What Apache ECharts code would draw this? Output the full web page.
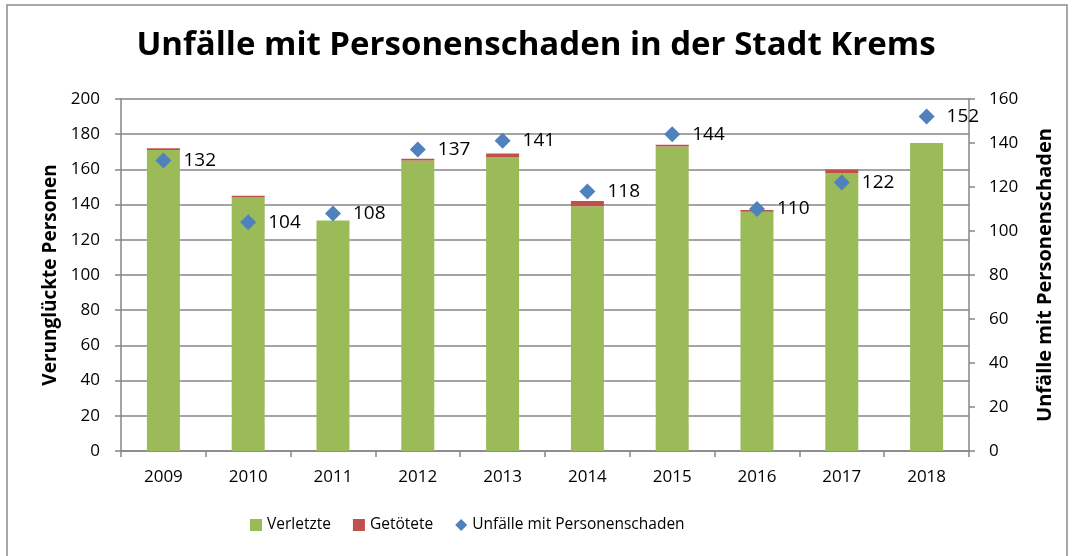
<!DOCTYPE html>
<html>
<head>
<meta charset="utf-8">
<script src="https://cdn.jsdelivr.net/npm/echarts@6/dist/echarts.min.js"></script>
<style>
  html, body { margin: 0; padding: 0; background: #fff; }
  #chart { width: 1072px; height: 556px; }
</style>
</head>
<body>
<div id="chart"></div>
<script>
const years = ['2009', '2010', '2011', '2012', '2013', '2014', '2015', '2016', '2017', '2018']
const verletzte = [171, 144, 131, 165, 167, 139, 173, 136, 158, 175]
const getoetete = [1, 1, 0, 1, 2, 3, 1, 1, 2, 0]
const unfaelle = [132, 104, 108, 137, 141, 118, 144, 110, 122, 152]

const font = 'Open Sans'
const chart = echarts.init(document.getElementById('chart'))

chart.setOption({
  animation: false,
  textStyle: { fontFamily: font },
  graphic: [
    {
      type: 'rect',
      shape: { x: 7, y: 5, width: 1060, height: 560 },
      style: { fill: 'none', stroke: '#8c8c8c', lineWidth: 1.5 }
    }
  ],
  title: {
    text: 'Unfälle mit Personenschaden in der Stadt Krems',
    left: 'center',
    top: 24,
    textStyle: { fontFamily: font, fontSize: 33, fontWeight: 'bold', color: '#000' }
  },
  legend: {
    bottom: 18,
    left: 245,
    itemWidth: 12,
    itemHeight: 12,
    itemGap: 22,
    textStyle: { fontFamily: font, fontSize: 15.5, color: '#000' },
    data: [
      { name: 'Verletzte', icon: 'rect' },
      { name: 'Getötete', icon: 'rect' },
      { name: 'Unfälle mit Personenschaden', icon: 'diamond' }
    ]
  },
  grid: { left: 121, right: 103, top: 99, bottom: 105 },
  xAxis: {
    type: 'category',
    data: years,
    axisLine: { lineStyle: { color: '#868686', width: 1.5 } },
    axisTick: { show: true, length: 6, lineStyle: { color: '#868686', width: 1.5 } },
    axisLabel: { color: '#000', fontSize: 17, margin: 18 }
  },
  yAxis: [
    {
      type: 'value',
      min: 0,
      max: 200,
      interval: 20,
      name: 'Verunglückte Personen',
      nameLocation: 'middle',
      nameGap: 60,
      nameTextStyle: { fontSize: 19, fontWeight: 'bold', color: '#000' },
      axisLine: { show: true, lineStyle: { color: '#868686', width: 1.5 } },
      axisTick: { show: true, length: 6, lineStyle: { color: '#868686', width: 1.5 } },
      axisLabel: { color: '#000', fontSize: 17, margin: 21 },
      splitLine: { lineStyle: { color: '#868686', width: 1.5 } }
    },
    {
      type: 'value',
      min: 0,
      max: 160,
      interval: 20,
      position: 'right',
      name: 'Unfälle mit Personenschaden',
      nameLocation: 'middle',
      nameGap: 66,
      nameRotate: 90,
      nameTextStyle: { fontSize: 20, fontWeight: 'bold', color: '#000' },
      axisLine: { show: true, lineStyle: { color: '#868686', width: 1.5 } },
      axisTick: { show: true, length: 6, lineStyle: { color: '#868686', width: 1.5 } },
      axisLabel: { color: '#000', fontSize: 17, margin: 20 },
      splitLine: { show: false }
    }
  ],
  series: [
    {
      name: 'Verletzte',
      type: 'bar',
      stack: 'p',
      barWidth: 33,
      itemStyle: { color: '#9bbb59' },
      data: verletzte
    },
    {
      name: 'Getötete',
      type: 'bar',
      stack: 'p',
      barWidth: 33,
      itemStyle: { color: '#c0504d' },
      data: getoetete
    },
    {
      name: 'Unfälle mit Personenschaden',
      type: 'scatter',
      yAxisIndex: 1,
      symbol: 'diamond',
      symbolSize: 16,
      z: 5,
      itemStyle: { color: '#4f81bd', opacity: 1 },
      label: {
        show: true,
        position: 'right',
        distance: 12,
        color: '#000',
        fontSize: 19,
        fontFamily: font
      },
      data: unfaelle
    }
  ]
})
</script>
</body>
</html>
